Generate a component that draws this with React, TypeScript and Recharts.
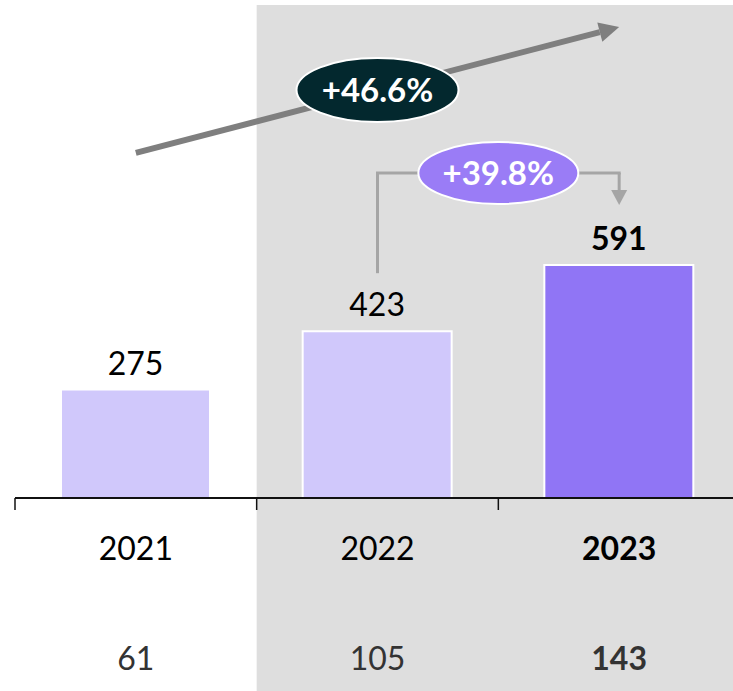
import { BarChart, Bar, XAxis, YAxis, Cell, LabelList, ReferenceArea, ReferenceLine } from "recharts";

const years = ["2021", "2022", "2023"];
const totals = [275, 423, 591];
const counts = [61, 105, 143];
const barColors = ["#d0c8fb", "#d0c8fb", "#9075f5"];
const totalGrowth = "+46.6%";
const yearGrowth = "+39.8%";

const data = years.map((year, i) => ({ year, total: totals[i], count: counts[i] }));

const W = 745;
const H = 691;
const M = { top: 5, right: 5, left: 15, bottom: 0 };
const STEP = (W - M.left - M.right) / years.length;
const FONT = "Lato, 'Open Sans', sans-serif";

const YearTick = (props: any) => {
  const { x, y, payload, index } = props;
  const last = index === years.length - 1;
  const edge = x - STEP / 2;
  return (
    <g>
      <line x1={edge} x2={edge} y1={y} y2={y + 12} stroke="#111" strokeWidth={1.5} />
      <text x={x} y={y + 62} textAnchor="middle" fontFamily={FONT} fontSize={32} fontWeight={last ? 700 : 400} fill="#000">
        {payload.value}
      </text>
      <text x={x} y={y + 172} textAnchor="middle" fontFamily={FONT} fontSize={32} fontWeight={last ? 700 : 400} fill="#333">
        {counts[index]}
      </text>
    </g>
  );
};

const TotalLabel = (props: any) => {
  const { x, y, width, value } = props;
  const last = value === totals[totals.length - 1];
  return (
    <text x={x + width / 2} y={y - 15} textAnchor="middle" fontFamily={FONT} fontSize={32} fontWeight={last ? 700 : 400} fill="#000">
      {value}
    </text>
  );
};

// big trend arrow with the dark badge in its middle
const TrendArrow = (props: any) => {
  const { x1, y1, x2, y2 } = props;
  const a = Math.atan2(y2 - y1, x2 - x1);
  const c = Math.cos(a);
  const s = Math.sin(a);
  const bx = x2 - 20 * c;
  const by = y2 - 20 * s;
  const pts = `${x2},${y2} ${bx - 10 * s},${by + 10 * c} ${bx + 10 * s},${by - 10 * c}`;
  const mx = (x1 + x2) / 2;
  const my = (y1 + y2) / 2;
  return (
    <g>
      <line x1={x1} y1={y1} x2={bx} y2={by} stroke="#7f7f7f" strokeWidth={6} />
      <polygon points={pts} fill="#7f7f7f" />
      <ellipse cx={mx} cy={my} rx={81} ry={32} fill="#03282e" stroke="#fff" strokeWidth={2} />
      <text x={mx} y={my + 12} textAnchor="middle" fontFamily={FONT} fontSize={33} fontWeight={700} fill="#fff">
        {totalGrowth}
      </text>
    </g>
  );
};

const Bracket = (props: any) => {
  const { x1, y1, x2, y2 } = props;
  return <line x1={x1} y1={y1} x2={x2} y2={y2} stroke="#a5a5a5" strokeWidth={3} />;
};

const BracketBadge = (props: any) => {
  const { x1, y1, x2, y2 } = props;
  const mx = (x1 + x2) / 2;
  return (
    <g>
      <line x1={x1 - 1.5} y1={y1} x2={x2 + 1.5} y2={y2} stroke="#a5a5a5" strokeWidth={3} />
      <ellipse cx={mx} cy={y1} rx={80} ry={31} fill="#9a7cf6" stroke="#fff" strokeWidth={2} />
      <text x={mx} y={y1 + 12} textAnchor="middle" fontFamily={FONT} fontSize={33} fontWeight={700} fill="#fff">
        {yearGrowth}
      </text>
    </g>
  );
};

const BracketArrow = (props: any) => {
  const { x1, y1, x2, y2 } = props;
  return (
    <g>
      <line x1={x1} y1={y1} x2={x2} y2={y2 - 14} stroke="#a5a5a5" strokeWidth={3} />
      <polygon points={`${x2},${y2} ${x2 - 8},${y2 - 15} ${x2 + 8},${y2 - 15}`} fill="#a5a5a5" />
    </g>
  );
};

export default function App() {
  return (
    <div style={{ position: "fixed", left: 0, top: 0, width: 733, height: H, overflow: "hidden", background: "#fff" }}>
      <BarChart width={W} height={H} data={data} margin={M}>
        <ReferenceArea x1="2022" x2="2023" y1={-500} y2={1250} ifOverflow="visible" fill="#dedede" fillOpacity={1} stroke="none" />
        <YAxis hide domain={[0, 1250]} />
        <Bar dataKey="total" barSize={149} stroke="#fff" strokeWidth={2} isAnimationActive={false}>
          {data.map((d, i) => (
            <Cell key={d.year} fill={barColors[i]} />
          ))}
          <LabelList dataKey="total" content={TotalLabel} />
        </Bar>
        <XAxis
          dataKey="year"
          height={193}
          axisLine={{ stroke: "#111", strokeWidth: 2 }}
          tickLine={false}
          tickSize={0}
          tickMargin={0}
          interval={0}
          tick={YearTick}
        />
        <ReferenceLine segment={[{ x: "2021", y: 875 }, { x: "2023", y: 1194 }]} shape={TrendArrow} ifOverflow="visible" />
        <ReferenceLine segment={[{ x: "2022", y: 570 }, { x: "2022", y: 824 }]} shape={Bracket} ifOverflow="visible" />
        <ReferenceLine segment={[{ x: "2022", y: 824 }, { x: "2023", y: 824 }]} shape={BracketBadge} ifOverflow="visible" />
        <ReferenceLine segment={[{ x: "2023", y: 824 }, { x: "2023", y: 743 }]} shape={BracketArrow} ifOverflow="visible" />
      </BarChart>
    </div>
  );
}
